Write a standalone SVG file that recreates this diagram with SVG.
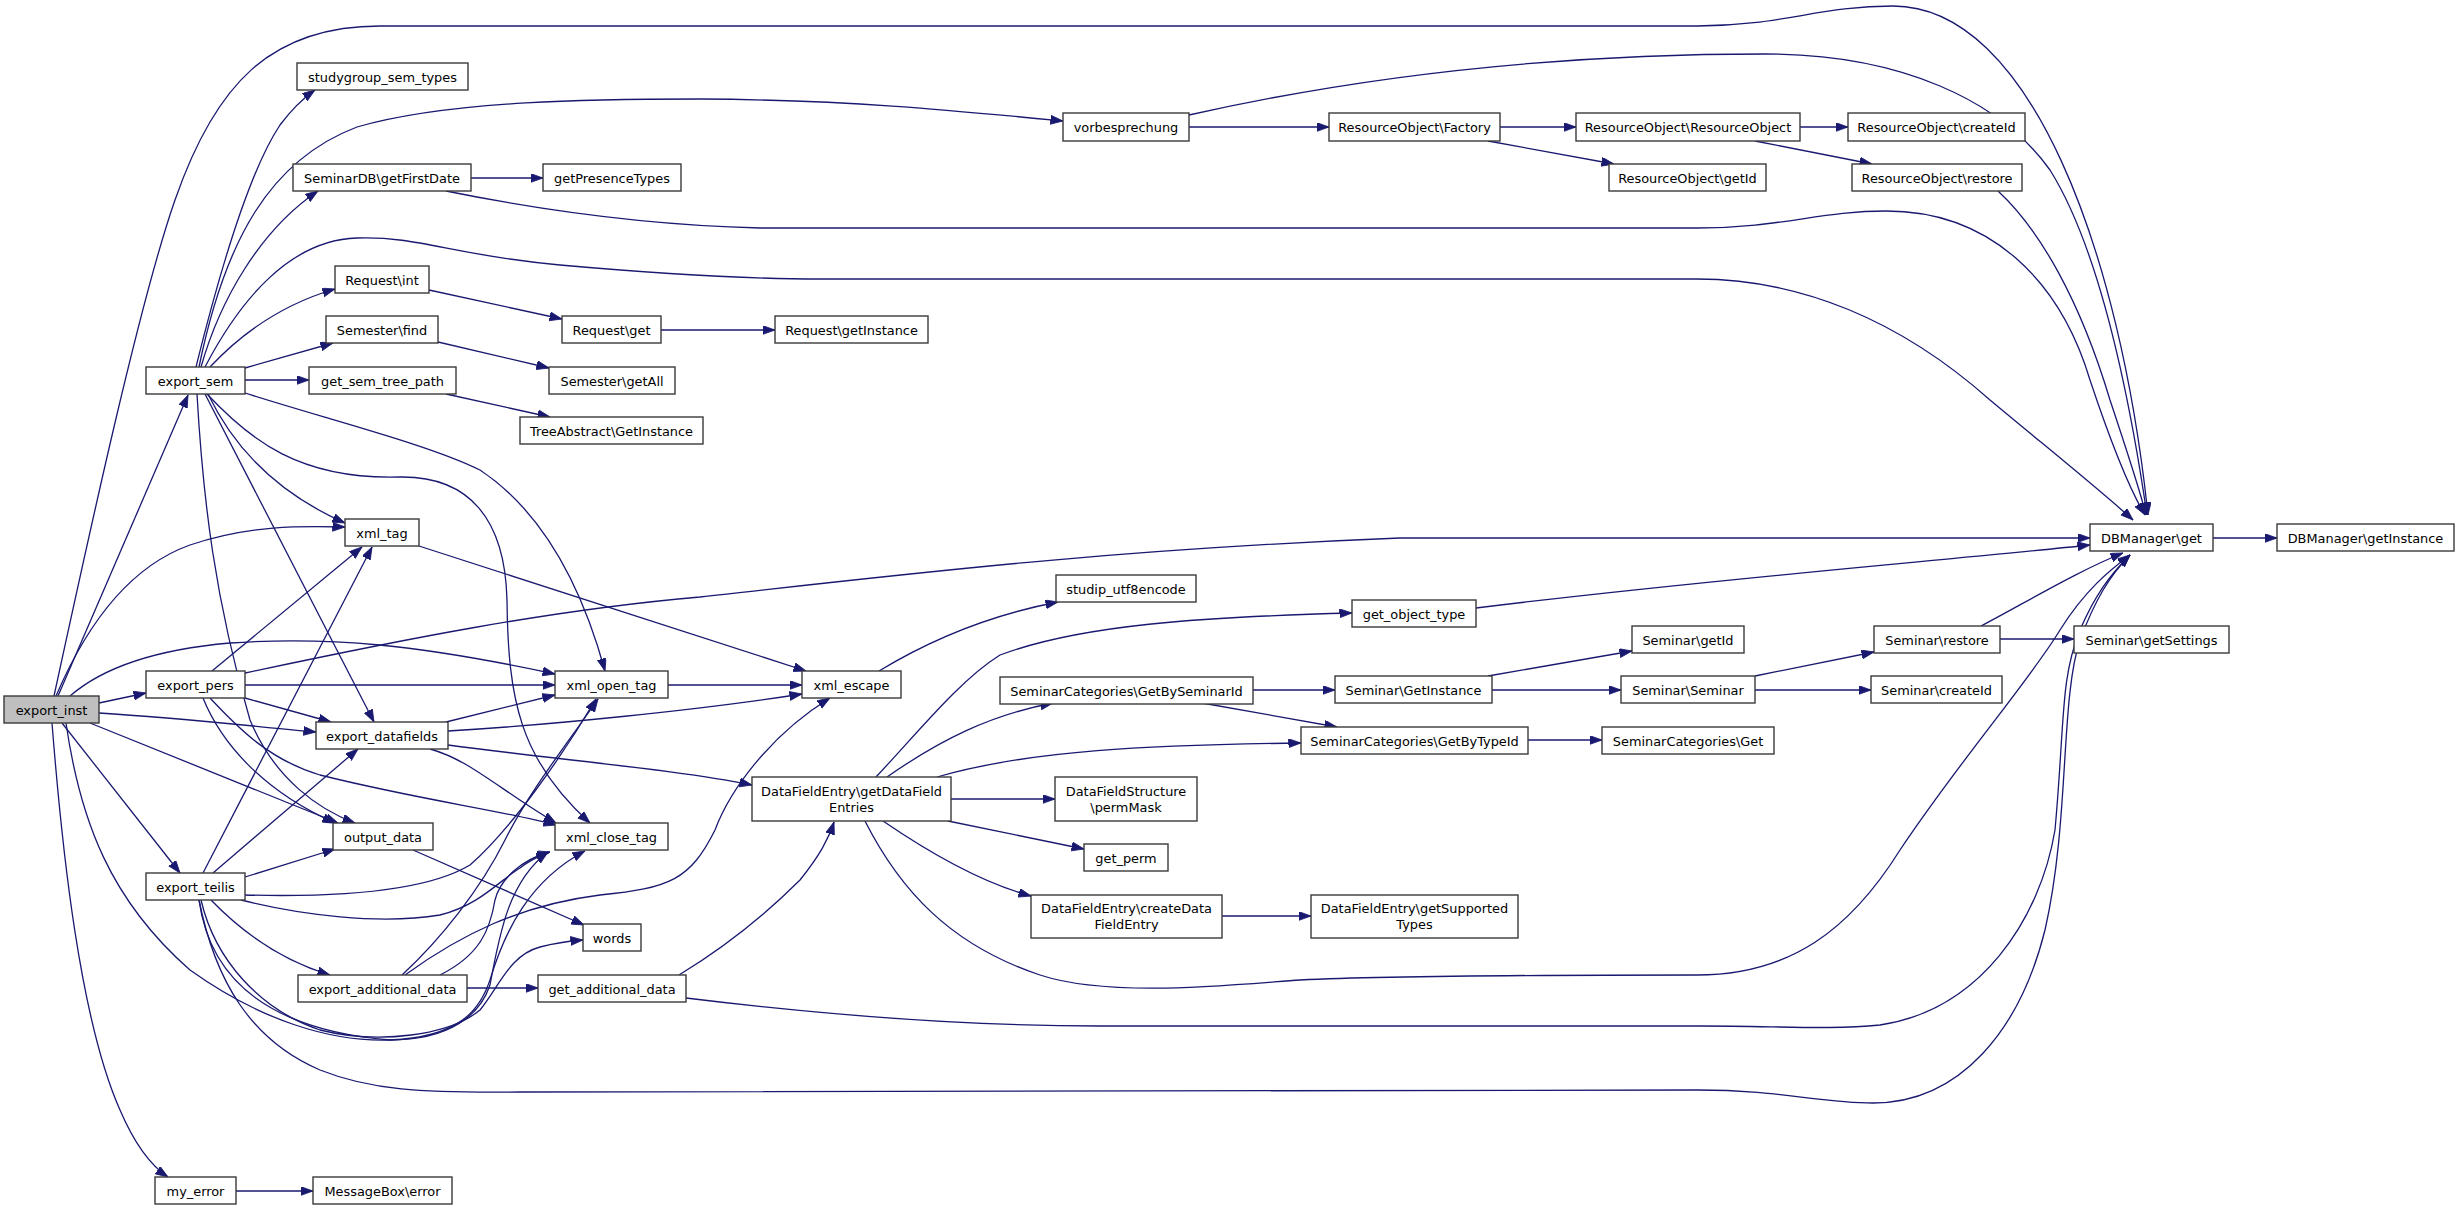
<svg xmlns="http://www.w3.org/2000/svg" width="2459" height="1210" viewBox="0 0 2459 1210">
<style>
.node rect{fill:#ffffff;stroke:#3a3a3a;stroke-width:1.4}
.node.root rect{fill:#bfbfbf}
.node text{font-family:"DejaVu Sans",sans-serif;font-size:12.9px;text-anchor:middle;fill:#000}
.edges path{fill:none;stroke:#191970;stroke-width:1.3;marker-end:url(#arr)}
</style>
<defs>
<marker id="arr" markerUnits="userSpaceOnUse" markerWidth="13" markerHeight="10" refX="12.5" refY="4.5" orient="auto">
<path d="M0,0 L12.5,4.5 L0,9 z" fill="#191970" stroke="#191970" stroke-width="0.8"/>
</marker>
</defs>
<rect width="2459" height="1210" fill="#ffffff"/>
<g class="edges">
<path id="e_inst_dbget" d="M54,696 C90,530 140,300 175,200 C215,85 270,26 380,26 L1697,26 C1780,26 1820,6 1893,6 C2030,6 2120,250 2148,515"/>
<path id="e_inst_sem" d="M58,696 L188,395"/>
<path id="e_inst_xmltag" d="M56,696 C80,640 120,570 190,545 C250,525 300,526 345,527"/>
<path id="e_inst_pers" d="M99,703 L146,693"/>
<path id="e_inst_xmlopen" d="M70,696 C100,670 150,650 230,643 C330,636 420,645 555,674"/>
<path id="e_inst_datafields" d="M99,713 C180,718 250,726 316,732"/>
<path id="e_inst_output" d="M90,723 L338,823"/>
<path id="e_inst_teilis" d="M62,723 L180,873"/>
<path id="e_inst_myerror" d="M52,723 C62,850 80,1020 120,1110 C135,1145 150,1165 168,1177"/>
<path id="e_inst_xmlclose" d="M66,723 C80,820 110,900 190,970 C260,1020 330,1042 390,1040 C460,1037 480,1010 490,980 C505,930 530,880 585,851"/>
<path id="e_sem_studygroup" d="M196,367 C220,270 250,170 280,125 C295,105 305,97 315,90"/>
<path id="e_sem_vorbesprechung" d="M199,367 C225,240 270,160 357,127 C450,100 600,99 700,99 C850,100 950,110 1063,121"/>
<path id="e_sem_firstdate" d="M201,367 C220,300 260,230 318,191"/>
<path id="e_sem_dbget" d="M205,367 C240,300 290,240 357,238 C420,236 450,255 560,265 C650,273 750,279 820,279 L1697,279 C1800,279 1900,320 1990,400 C2050,450 2100,490 2133,520"/>
<path id="e_sem_reqint" d="M210,367 C240,335 280,305 335,289"/>
<path id="e_sem_semfind" d="M245,368 L333,343"/>
<path id="e_sem_treepath" d="M245,380 L309,380"/>
<path id="e_sem_xmltag" d="M208,394 C230,440 270,490 345,523"/>
<path id="e_sem_xmlopen" d="M245,393 C330,420 430,445 480,470 C540,510 580,580 605,671"/>
<path id="e_sem_datafields" d="M205,394 L374,722"/>
<path id="e_sem_output" d="M197,394 C203,500 215,600 250,720 C275,780 320,810 355,823"/>
<path id="e_sem_xmlclose" d="M207,394 C250,440 300,480 400,477 C470,476 505,520 507,600 C508,700 520,760 590,823"/>
<path id="e_firstdate_presence" d="M471,178 L543,178"/>
<path id="e_firstdate_dbget" d="M446,191 C530,208 640,225 760,228 L1697,228 C1780,228 1820,211 1886,211 C1990,211 2060,280 2090,380 C2110,440 2130,490 2145,515"/>
<path id="e_reqint_reqget" d="M429,290 L562,319"/>
<path id="e_reqget_reqinst" d="M661,330 L775,330"/>
<path id="e_semfind_getall" d="M438,342 L549,368"/>
<path id="e_treepath_tree" d="M446,394 L550,417"/>
<path id="e_vorb_factory" d="M1189,127 L1329,127"/>
<path id="e_vorb_dbget" d="M1189,115 C1300,90 1500,54 1765,54 C1900,54 2000,100 2050,170 C2100,250 2130,400 2147,515"/>
<path id="e_factory_ro" d="M1500,127 L1576,127"/>
<path id="e_factory_getid" d="M1488,141 L1614,164"/>
<path id="e_ro_createid" d="M1800,127 L1848,127"/>
<path id="e_ro_restore" d="M1755,141 L1872,164"/>
<path id="e_rorestore_dbget" d="M1998,191 C2040,230 2080,300 2110,400 C2130,460 2140,490 2146,515"/>
<path id="e_dbget_inst" d="M2213,538 L2277,538"/>
<path id="e_pers_dbget" d="M245,673 C400,640 550,610 700,597 C900,575 1100,550 1400,538 L2090,538"/>
<path id="e_pers_xmlopen" d="M245,685 L555,685"/>
<path id="e_pers_xmltag" d="M212,671 L362,547"/>
<path id="e_pers_datafields" d="M245,698 L331,722"/>
<path id="e_pers_output" d="M203,698 C220,740 260,790 335,823"/>
<path id="e_pers_xmlclose" d="M210,698 C240,730 270,760 320,775 C420,800 500,810 556,825"/>
<path id="e_xmltag_escape" d="M419,546 L806,671"/>
<path id="e_xmlopen_escape" d="M668,685 L802,685"/>
<path id="e_escape_utf8" d="M879,671 C930,640 990,615 1058,602"/>
<path id="e_df_xmlopen" d="M446,722 L555,695"/>
<path id="e_df_escape" d="M448,731 C550,725 700,710 802,694"/>
<path id="e_df_xmlclose" d="M430,749 C470,760 500,790 556,823"/>
<path id="e_df_dfe" d="M448,745 C560,760 680,770 752,785"/>
<path id="e_dfe_objtype" d="M876,777 C920,730 960,680 1000,655 C1080,625 1200,617 1352,613"/>
<path id="e_dfe_bysem" d="M887,777 C940,740 990,715 1053,703"/>
<path id="e_dfe_bytype" d="M937,777 C1030,750 1150,745 1301,743"/>
<path id="e_dfe_permmask" d="M951,799 L1055,799"/>
<path id="e_dfe_getperm" d="M948,821 L1084,849"/>
<path id="e_dfe_create" d="M883,821 C940,860 990,885 1031,896"/>
<path id="e_dfe_dbget" d="M865,821 C900,890 950,945 1040,975 C1110,998 1230,985 1300,980 C1400,975 1600,975 1697,975 C1790,975 1850,930 1900,850 C1960,760 2030,680 2060,630 C2085,590 2110,570 2130,555"/>
<path id="e_objtype_dbget" d="M1476,608 C1700,580 1950,560 2090,545"/>
<path id="e_bysem_getinst" d="M1253,690 L1335,690"/>
<path id="e_bysem_bytype" d="M1202,703 L1337,727"/>
<path id="e_getinst_getid" d="M1488,676 L1632,651"/>
<path id="e_getinst_seminar" d="M1492,690 L1621,690"/>
<path id="e_seminar_restore" d="M1755,676 L1874,652"/>
<path id="e_seminar_createid" d="M1755,690 L1871,690"/>
<path id="e_restore_settings" d="M2000,639 L2074,639"/>
<path id="e_restore_dbget" d="M1981,626 C2030,600 2080,570 2123,553"/>
<path id="e_bytype_get" d="M1528,740 L1602,740"/>
<path id="e_create_supported" d="M1222,916 L1311,916"/>
<path id="e_output_words" d="M413,850 L584,925"/>
<path id="e_teilis_output" d="M245,877 L335,849"/>
<path id="e_teilis_xmltag" d="M203,873 L372,547"/>
<path id="e_teilis_datafields" d="M213,873 L358,749"/>
<path id="e_teilis_xmlopen" d="M245,895 C320,897 420,895 470,865 C510,830 560,760 596,699"/>
<path id="e_teilis_xmlclose" d="M241,900 C300,915 380,925 440,915 C480,905 500,880 520,868 C530,860 540,856 549,852"/>
<path id="e_teilis_adddata" d="M211,900 C240,930 280,960 330,975"/>
<path id="e_teilis_words" d="M201,900 C215,960 260,1010 320,1030 C380,1045 450,1035 480,1010 C500,985 510,955 540,947 C555,943 570,941 583,940"/>
<path id="e_teilis_xmlclose_b" d="M199,900 C210,980 270,1030 390,1040 C450,1040 480,1015 490,985 C500,930 510,880 548,852"/>
<path id="e_teilis_dbget" d="M199,900 C215,980 250,1040 320,1070 C370,1090 420,1093 520,1092 L1697,1090 C1780,1090 1820,1103 1873,1103 C1960,1103 2020,1030 2045,930 C2070,820 2060,700 2080,640 C2095,600 2110,575 2130,555"/>
<path id="e_add_getadd" d="M467,988 L538,988"/>
<path id="e_add_xmlopen" d="M402,975 C440,940 480,890 505,840 C530,790 570,740 598,699"/>
<path id="e_add_xmlclose" d="M440,975 C480,955 490,930 495,900 C500,880 520,860 550,852"/>
<path id="e_add_escape" d="M405,975 C460,935 520,905 600,895 C670,888 690,880 715,830 C730,790 770,735 830,698"/>
<path id="e_getadd_dfe" d="M679,975 C720,950 760,920 800,880 C820,855 828,840 834,822"/>
<path id="e_getadd_dbget" d="M686,998 C800,1012 950,1026 1100,1026 L1700,1026 C1780,1026 1830,1030 1880,1025 C1980,1010 2040,920 2055,830 C2065,720 2060,680 2080,630 C2095,595 2110,575 2130,555"/>
<path id="e_myerror_msgbox" d="M236,1191 L313,1191"/>
</g>
<g id="n_export_inst" class="node root"><rect x="4" y="696" width="95" height="27"/><text x="51.5" y="714.5">export_inst</text></g>
<g id="n_export_sem" class="node"><rect x="146" y="367" width="99" height="27"/><text x="195.5" y="385.5">export_sem</text></g>
<g id="n_studygroup_sem_types" class="node"><rect x="297" y="63" width="171" height="27"/><text x="382.5" y="81.5">studygroup_sem_types</text></g>
<g id="n_getFirstDate" class="node"><rect x="293" y="164" width="178" height="27"/><text x="382" y="182.5">SeminarDB\getFirstDate</text></g>
<g id="n_getPresenceTypes" class="node"><rect x="543" y="164" width="138" height="27"/><text x="612" y="182.5">getPresenceTypes</text></g>
<g id="n_request_int" class="node"><rect x="335" y="266" width="94" height="27"/><text x="382" y="284.5">Request\int</text></g>
<g id="n_semester_find" class="node"><rect x="326" y="316" width="112" height="27"/><text x="382" y="334.5">Semester\find</text></g>
<g id="n_request_get" class="node"><rect x="562" y="316" width="99" height="27"/><text x="611.5" y="334.5">Request\get</text></g>
<g id="n_request_getInstance" class="node"><rect x="775" y="316" width="153" height="27"/><text x="851.5" y="334.5">Request\getInstance</text></g>
<g id="n_get_sem_tree_path" class="node"><rect x="309" y="367" width="147" height="27"/><text x="382.5" y="385.5">get_sem_tree_path</text></g>
<g id="n_semester_getAll" class="node"><rect x="549" y="367" width="126" height="27"/><text x="612" y="385.5">Semester\getAll</text></g>
<g id="n_tree_getInstance" class="node"><rect x="520" y="417" width="183" height="27"/><text x="611.5" y="435.5">TreeAbstract\GetInstance</text></g>
<g id="n_vorbesprechung" class="node"><rect x="1063" y="113" width="126" height="28"/><text x="1126" y="131.5">vorbesprechung</text></g>
<g id="n_ro_factory" class="node"><rect x="1329" y="113" width="171" height="28"/><text x="1414.5" y="131.5">ResourceObject\Factory</text></g>
<g id="n_ro_ro" class="node"><rect x="1576" y="113" width="224" height="28"/><text x="1688" y="131.5">ResourceObject\ResourceObject</text></g>
<g id="n_ro_createId" class="node"><rect x="1848" y="113" width="177" height="28"/><text x="1936.5" y="131.5">ResourceObject\createId</text></g>
<g id="n_ro_getId" class="node"><rect x="1609" y="164" width="157" height="27"/><text x="1687.5" y="182.5">ResourceObject\getId</text></g>
<g id="n_ro_restore" class="node"><rect x="1852" y="164" width="170" height="27"/><text x="1937" y="182.5">ResourceObject\restore</text></g>
<g id="n_dbmanager_get" class="node"><rect x="2090" y="524" width="123" height="27"/><text x="2151.5" y="542.5">DBManager\get</text></g>
<g id="n_dbmanager_getInstance" class="node"><rect x="2277" y="524" width="177" height="27"/><text x="2365.5" y="542.5">DBManager\getInstance</text></g>
<g id="n_xml_tag" class="node"><rect x="345" y="519" width="74" height="27"/><text x="382" y="537.5">xml_tag</text></g>
<g id="n_export_pers" class="node"><rect x="146" y="671" width="99" height="27"/><text x="195.5" y="689.5">export_pers</text></g>
<g id="n_xml_open_tag" class="node"><rect x="555" y="671" width="113" height="27"/><text x="611.5" y="689.5">xml_open_tag</text></g>
<g id="n_xml_escape" class="node"><rect x="802" y="671" width="99" height="27"/><text x="851.5" y="689.5">xml_escape</text></g>
<g id="n_studip_utf8encode" class="node"><rect x="1056" y="575" width="140" height="27"/><text x="1126" y="593.5">studip_utf8encode</text></g>
<g id="n_export_datafields" class="node"><rect x="316" y="722" width="132" height="27"/><text x="382" y="740.5">export_datafields</text></g>
<g id="n_dfe_getDataFieldEntries" class="node"><rect x="752" y="777" width="199" height="44"/><text x="851.5" y="795.5">DataFieldEntry\getDataField</text><text x="851.5" y="811.5">Entries</text></g>
<g id="n_get_object_type" class="node"><rect x="1352" y="600" width="124" height="27"/><text x="1414" y="618.5">get_object_type</text></g>
<g id="n_sc_getBySeminarId" class="node"><rect x="1000" y="677" width="253" height="27"/><text x="1126.5" y="695.5">SeminarCategories\GetBySeminarId</text></g>
<g id="n_seminar_getInstance" class="node"><rect x="1335" y="676" width="157" height="27"/><text x="1413.5" y="694.5">Seminar\GetInstance</text></g>
<g id="n_seminar_getId" class="node"><rect x="1632" y="626" width="112" height="27"/><text x="1688" y="644.5">Seminar\getId</text></g>
<g id="n_seminar_seminar" class="node"><rect x="1621" y="676" width="134" height="27"/><text x="1688" y="694.5">Seminar\Seminar</text></g>
<g id="n_seminar_restore" class="node"><rect x="1874" y="626" width="126" height="27"/><text x="1937" y="644.5">Seminar\restore</text></g>
<g id="n_seminar_getSettings" class="node"><rect x="2074" y="626" width="155" height="27"/><text x="2151.5" y="644.5">Seminar\getSettings</text></g>
<g id="n_seminar_createId" class="node"><rect x="1871" y="676" width="131" height="27"/><text x="1936.5" y="694.5">Seminar\createId</text></g>
<g id="n_sc_getByTypeId" class="node"><rect x="1301" y="727" width="227" height="27"/><text x="1414.5" y="745.5">SeminarCategories\GetByTypeId</text></g>
<g id="n_sc_get" class="node"><rect x="1602" y="727" width="172" height="27"/><text x="1688" y="745.5">SeminarCategories\Get</text></g>
<g id="n_dfs_permMask" class="node"><rect x="1055" y="777" width="142" height="44"/><text x="1126" y="795.5">DataFieldStructure</text><text x="1126" y="811.5">\permMask</text></g>
<g id="n_get_perm" class="node"><rect x="1084" y="844" width="84" height="27"/><text x="1126" y="862.5">get_perm</text></g>
<g id="n_dfe_createDataFieldEntry" class="node"><rect x="1031" y="895" width="191" height="43"/><text x="1126.5" y="913">DataFieldEntry\createData</text><text x="1126.5" y="929">FieldEntry</text></g>
<g id="n_dfe_getSupportedTypes" class="node"><rect x="1311" y="895" width="207" height="43"/><text x="1414.5" y="913">DataFieldEntry\getSupported</text><text x="1414.5" y="929">Types</text></g>
<g id="n_output_data" class="node"><rect x="333" y="823" width="100" height="27"/><text x="383" y="841.5">output_data</text></g>
<g id="n_xml_close_tag" class="node"><rect x="555" y="823" width="113" height="27"/><text x="611.5" y="841.5">xml_close_tag</text></g>
<g id="n_words" class="node"><rect x="583" y="924" width="58" height="27"/><text x="612" y="942.5">words</text></g>
<g id="n_export_teilis" class="node"><rect x="146" y="873" width="99" height="27"/><text x="195.5" y="891.5">export_teilis</text></g>
<g id="n_export_additional_data" class="node"><rect x="298" y="975" width="169" height="27"/><text x="382.5" y="993.5">export_additional_data</text></g>
<g id="n_get_additional_data" class="node"><rect x="538" y="975" width="148" height="27"/><text x="612" y="993.5">get_additional_data</text></g>
<g id="n_my_error" class="node"><rect x="155" y="1177" width="81" height="27"/><text x="195.5" y="1195.5">my_error</text></g>
<g id="n_messagebox_error" class="node"><rect x="313" y="1177" width="139" height="27"/><text x="382.5" y="1195.5">MessageBox\error</text></g>
</svg>
